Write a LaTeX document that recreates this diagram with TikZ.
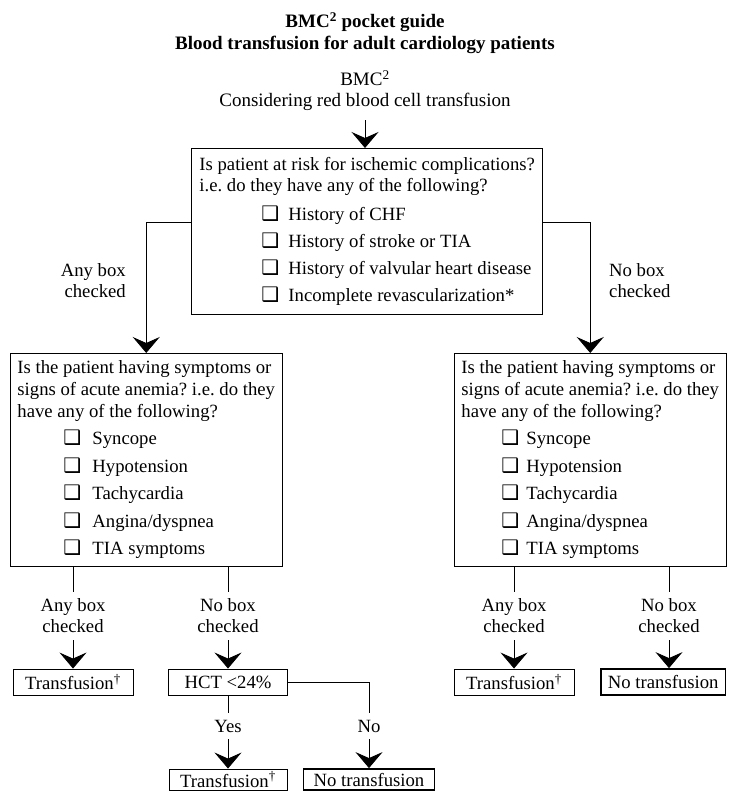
\documentclass[tikz,border=0pt]{standalone}
\usepackage{fontspec}
\setmainfont{Liberation Serif}
\newfontfamily\symfont{DejaVu Sans}
\usetikzlibrary{arrows.meta,positioning}
\frenchspacing

% checkbox item: indent, room for the box
\newcommand{\chk}[2]{\hspace*{#1}\makebox[#2][l]{{\symfont\fontsize{20}{20}\selectfont ❑}}}

\begin{document}
\begin{tikzpicture}[x=1pt, y=-1pt,
      font=\fontsize{18.7}{21}\selectfont,
      qbox/.style={draw, line width=.9pt, align=left, inner xsep=7pt, inner ysep=7pt},
      endbox/.style={draw, line width=.9pt, minimum height=26pt, inner ysep=2pt},
      stopbox/.style={endbox, line width=1.8pt},
      lbl/.style={align=center, inner ysep=7pt, inner xsep=2pt},
      flow/.style={-{Stealth[length=16pt, width=27pt, inset=6pt]}, line width=.8pt},
      link/.style={line width=.8pt}]
    \useasboundingbox (0,0) rectangle (729,791);
    % header
    \node[font=\fontsize{19}{21.5}\selectfont\bfseries, align=center] (title) at (365,33)
      {BMC\textsuperscript{2} pocket guide\\Blood transfusion for adult cardiology patients};
    \node[font=\fontsize{19}{21}\selectfont, align=center, inner ysep=9pt] (start) at (365,91)
      {BMC\textsuperscript{2}\\Considering red blood cell transfusion};
    % ischemic risk
    \node[qbox, anchor=north west, inner xsep=8pt, inner ysep=9pt] (risk) at (191,148)
      {Is patient at risk for ischemic complications?\\
       i.e. do they have any of the following?\\[8pt]
       \chk{62pt}{27pt}History of CHF\\[6pt]
       \chk{62pt}{27pt}History of stroke or TIA\\[6pt]
       \chk{62pt}{27pt}History of valvular heart disease\\[6pt]
       \chk{62pt}{27pt}Incomplete revascularization*};
    % acute anemia, both branches
    \node[qbox, font=\fontsize{18.7}{22}\selectfont, anchor=north west] (symL) at (10,353)
      {Is the patient having symptoms or\\
       signs of acute anemia? i.e. do they\\
       have any of the following?\\[5.5pt]
       \chk{46pt}{29pt}Syncope\\[5.5pt]
       \chk{46pt}{29pt}Hypotension\\[5.5pt]
       \chk{46pt}{29pt}Tachycardia\\[5.5pt]
       \chk{46pt}{29pt}Angina/dyspnea\\[5.5pt]
       \chk{46pt}{29pt}TIA symptoms};
    \node[qbox, font=\fontsize{18.7}{22}\selectfont, anchor=north west] (symR) at (454,353)
      {Is the patient having symptoms or\\
       signs of acute anemia? i.e. do they\\
       have any of the following?\\[5.5pt]
       \chk{40pt}{25pt}Syncope\\[5.5pt]
       \chk{40pt}{25pt}Hypotension\\[5.5pt]
       \chk{40pt}{25pt}Tachycardia\\[5.5pt]
       \chk{40pt}{25pt}Angina/dyspnea\\[5.5pt]
       \chk{40pt}{25pt}TIA symptoms};
    \node[lbl, align=right, anchor=east] (anyA) at (128,281) {Any box\\checked};
    \node[lbl, align=left, anchor=west] (noA) at (607,281) {No box\\checked};
    % answers
    \node[lbl] (anyL) at (73,616) {Any box\\checked};
    \node[lbl] (noL) at (228,616) {No box\\checked};
    \node[lbl] (anyR) at (514,616) {Any box\\checked};
    \node[lbl] (noR) at (669,616) {No box\\checked};
    \node[endbox, minimum width=120pt] (trL) at (73,682) {Transfusion\textsuperscript{†}};
    \node[endbox, minimum width=119pt] (hct) at (228,682) {HCT <24\%};
    \node[endbox, minimum width=120pt] (trR) at (514,682) {Transfusion\textsuperscript{†}};
    \node[stopbox, anchor=west, inner xsep=7pt] (notR) at (600,682) {No transfusion};
    \node[lbl] (yes) at (228,726) {Yes};
    \node[lbl] (no) at (369,726) {No};
    \node[endbox, minimum width=118pt, minimum height=21pt, inner ysep=1pt] (trB) at (228,779.5) {Transfusion\textsuperscript{†}};
    \node[stopbox, minimum width=131pt, minimum height=21pt, inner ysep=1pt] (notB) at (369,779.5) {No transfusion};
    % connectors
    \draw[flow] (start) -- (start |- risk.north);
    \draw[flow] ([yshift=9pt]risk.west) -| (symL.north);
    \draw[flow] ([yshift=9pt]risk.east) -| (symR.north);
    \draw[link] (anyL |- symL.south) -- (anyL);
    \draw[link] (noL |- symL.south) -- (noL);
    \draw[link] (anyR |- symR.south) -- (anyR);
    \draw[link] (noR |- symR.south) -- (noR);
    \draw[flow] (anyL) -- (trL);
    \draw[flow] (noL) -- (hct);
    \draw[flow] (anyR) -- (trR);
    \draw[flow] (noR) -- (noR |- notR.north);
    \draw[link] (hct) -- (yes);
    \draw[flow] (yes) -- (trB);
    \draw[link] (hct.east) -| (no);
    \draw[flow] (no) -- (no |- notB.north);
  \end{tikzpicture}
\end{document}
